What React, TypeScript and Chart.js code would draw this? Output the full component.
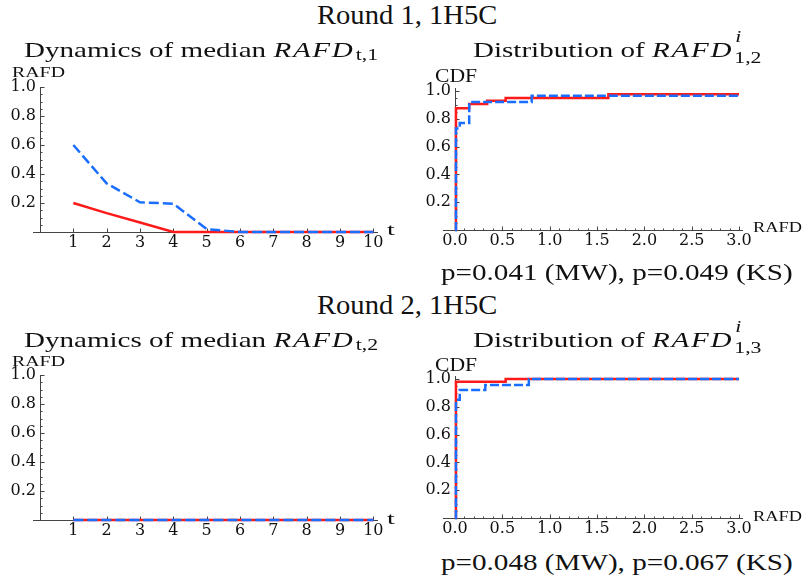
import React, { useEffect, useLayoutEffect, useRef, useState } from "react";
import { Chart, registerables } from "chart.js";
Chart.register(...registerables);

// ---------- data ----------
const tSteps = [1, 2, 3, 4, 5, 6, 7, 8, 9, 10];
const round1MedianRed = [0.2, 0.13, 0.065, 0, 0, 0, 0, 0, 0, 0];
const round1MedianBlue = [0.6, 0.335, 0.205, 0.195, 0.02, 0, 0, 0, 0, 0];
const round2MedianRed = [0, 0, 0, 0, 0, 0, 0, 0, 0, 0];
const round2MedianBlue = [0, 0, 0, 0, 0, 0, 0, 0, 0, 0];

const round1CdfRedX = [0, 0.01, 0.15, 0.34, 0.535, 1.62, 3.0];
const round1CdfRedY = [0, 0.876, 0.906, 0.93, 0.95, 0.976, 0.976];
const round1CdfBlueX = [0, 0.01, 0.05, 0.15, 0.81, 3.0];
const round1CdfBlueY = [0, 0.73, 0.77, 0.92, 0.965, 0.965];

const round2CdfRedX = [0, 0.01, 0.535, 3.0];
const round2CdfRedY = [0, 0.98, 1.0, 1.0];
const round2CdfBlueX = [0, 0.01, 0.05, 0.32, 0.78, 3.0];
const round2CdfBlueY = [0, 0.85, 0.92, 0.957, 1.0, 1.0];

const tTicks = [1, 2, 3, 4, 5, 6, 7, 8, 9, 10];
const rafdTicks = [0, 0.5, 1.0, 1.5, 2.0, 2.5, 3.0];
const shareTicks = [0.2, 0.4, 0.6, 0.8, 1.0];

// ---------- style ----------
const TICK_FONT = "'DejaVu Serif', serif";
const TEXT_FONT = "'Liberation Serif', serif";
const TEXT_ASC = 0.8375; // baseline offset for Liberation Serif with line-height = font-size
const RED = "#ff1a1a";
const BLUE = "#1a6eff";
const AXIS = "#444444";

function range(a: number, b: number, step: number) {
  const out: number[] = [];
  for (let v = a; v <= b + 1e-9; v += step) out.push(Math.round(v * 1000) / 1000);
  return out;
}

type AxisOpts = {
  extendLeft: number;
  xMajor: number[];
  xMinor: number[];
  yMajor: number[];
  yMinor: number[];
};

function axesPlugin(o: AxisOpts) {
  return {
    id: "mmaAxes",
    beforeDatasetsDraw(chart: any) {
      const { ctx, chartArea } = chart;
      const xs = chart.scales.x;
      const ys = chart.scales.y;
      const x0 = Math.round(xs.getPixelForValue(0)) + 0.5;
      const y0 = Math.round(ys.getPixelForValue(0)) + 0.5;
      ctx.save();
      ctx.strokeStyle = AXIS;
      ctx.lineWidth = 1;
      ctx.beginPath();
      ctx.moveTo(chartArea.left - o.extendLeft, y0);
      ctx.lineTo(chartArea.right, y0);
      ctx.moveTo(x0, y0);
      ctx.lineTo(x0, chartArea.top);
      o.xMajor.forEach((v) => {
        const p = Math.round(xs.getPixelForValue(v)) + 0.5;
        ctx.moveTo(p, y0);
        ctx.lineTo(p, y0 - 4);
      });
      o.xMinor.forEach((v) => {
        const p = Math.round(xs.getPixelForValue(v)) + 0.5;
        ctx.moveTo(p, y0);
        ctx.lineTo(p, y0 - 2);
      });
      o.yMajor.forEach((v) => {
        const p = Math.round(ys.getPixelForValue(v)) + 0.5;
        ctx.moveTo(x0, p);
        ctx.lineTo(x0 + 4, p);
      });
      o.yMinor.forEach((v) => {
        const p = Math.round(ys.getPixelForValue(v)) + 0.5;
        ctx.moveTo(x0, p);
        ctx.lineTo(x0 + 2, p);
      });
      ctx.stroke();
      ctx.restore();
    },
  };
}

type PanelSpec = {
  left: number;
  top: number;
  width: number;
  height: number;
  areaLeft: number;
  areaTop: number;
  areaRight: number;
  areaBottom: number;
  xMin: number;
  xMax: number;
  yMax: number;
  xTicks: number[];
  xDecimals: number;
  stepped: boolean;
  dash: number[];
  red: { x: number; y: number }[];
  blue: { x: number; y: number }[];
  axes: AxisOpts;
};

function Panel({ spec }: { spec: PanelSpec }) {
  const ref = useRef<HTMLCanvasElement | null>(null);
  useEffect(() => {
    if (!ref.current) return;
    const s = spec;
    const tickFont = { family: TICK_FONT, size: 16 };
    const chart = new Chart(ref.current, {
      type: "line",
      data: {
        datasets: [
          {
            data: s.blue,
            borderColor: BLUE,
            borderWidth: 2.5,
            borderDash: s.dash,
            pointRadius: 0,
            fill: false,
            tension: 0,
            stepped: s.stepped ? "before" : false,
            clip: false as any,
          },
          {
            data: s.red,
            borderColor: RED,
            borderWidth: 2.5,
            pointRadius: 0,
            fill: false,
            tension: 0,
            stepped: s.stepped ? "before" : false,
            clip: false as any,
          },
        ],
      } as any,
      options: {
        animation: false,
        responsive: false,
        devicePixelRatio: 1,
        layout: {
          padding: {
            left: 0,
            top: s.areaTop,
            right: s.width - s.areaRight,
            bottom: 0,
          },
        },
        plugins: { legend: { display: false }, tooltip: { enabled: false } },
        scales: {
          x: {
            type: "linear",
            min: s.xMin,
            max: s.xMax,
            grid: { display: false, drawTicks: false },
            border: { display: false },
            afterBuildTicks: (sc: any) => {
              sc.ticks = s.xTicks.map((v) => ({ value: v }));
            },
            afterFit: (sc: any) => {
              sc.height = s.height - s.areaBottom;
            },
            ticks: {
              font: tickFont,
              color: "#111",
              padding: 1,
              maxRotation: 0,
              autoSkip: false,
              callback: (v: any) => Number(v).toFixed(s.xDecimals),
            },
          },
          y: {
            type: "linear",
            min: 0,
            max: s.yMax,
            grid: { display: false, drawTicks: false },
            border: { display: false },
            afterBuildTicks: (sc: any) => {
              sc.ticks = shareTicks.map((v) => ({ value: v }));
            },
            afterFit: (sc: any) => {
              sc.width = s.areaLeft;
            },
            ticks: {
              font: tickFont,
              color: "#111",
              padding: 4,
              autoSkip: false,
              callback: (v: any) => Number(v).toFixed(1),
            },
          },
        },
      } as any,
      plugins: [axesPlugin(s.axes)],
    });
    return () => chart.destroy();
  }, [spec]);
  return (
    <canvas
      ref={ref}
      width={spec.width}
      height={spec.height}
      style={{
        position: "absolute",
        left: spec.left,
        top: spec.top,
        width: spec.width,
        height: spec.height,
      }}
    />
  );
}

function pts(xs: number[], ys: number[]) {
  return xs.map((x, i) => ({ x, y: ys[i] }));
}

const yMinorTicks = range(0.05, 1.0, 0.05).filter(
  (v) => Math.abs(v * 5 - Math.round(v * 5)) > 1e-6
);

const dynAxes: AxisOpts = {
  extendLeft: 7,
  xMajor: tTicks,
  xMinor: [],
  yMajor: shareTicks,
  yMinor: yMinorTicks,
};
const cdfAxes: AxisOpts = {
  extendLeft: 12,
  xMajor: rafdTicks,
  xMinor: range(0.1, 3.0, 0.1).filter(
    (v) => Math.abs(v * 2 - Math.round(v * 2)) > 1e-6
  ),
  yMajor: shareTicks,
  yMinor: yMinorTicks,
};

function dynSpec(top: number, red: number[], blue: number[]): PanelSpec {
  return {
    left: 0,
    top,
    width: 405,
    height: 200,
    areaLeft: 40,
    areaTop: 27,
    areaRight: 378,
    areaBottom: 172,
    xMin: 0,
    xMax: 10.14,
    yMax: 1.0,
    xTicks: tTicks,
    xDecimals: 0,
    stepped: false,
    dash: [10, 4],
    red: pts(tSteps, red),
    blue: pts(tSteps, blue),
    axes: dynAxes,
  };
}

function cdfSpec(
  top: number,
  rx: number[],
  ry: number[],
  bx: number[],
  by: number[]
): PanelSpec {
  return {
    left: 405,
    top,
    width: 405,
    height: 200,
    areaLeft: 50,
    areaTop: 28,
    areaRight: 338,
    areaBottom: 170,
    xMin: 0,
    xMax: 3.042,
    yMax: 1.0216,
    xTicks: rafdTicks,
    xDecimals: 1,
    stepped: true,
    dash: [9, 3],
    red: pts(rx, ry),
    blue: pts(bx, by),
    axes: cdfAxes,
  };
}

const specs: PanelSpec[] = [
  dynSpec(60, round1MedianRed, round1MedianBlue),
  cdfSpec(60, round1CdfRedX, round1CdfRedY, round1CdfBlueX, round1CdfBlueY),
  dynSpec(348, round2MedianRed, round2MedianBlue),
  cdfSpec(348, round2CdfRedX, round2CdfRedY, round2CdfBlueX, round2CdfBlueY),
];

// Text that is stretched horizontally to span [x1, x2], with given baseline.
function FitText({
  x1,
  x2,
  baseline,
  size,
  children,
  style,
}: {
  x1: number;
  x2: number;
  baseline: number;
  size: number;
  children: React.ReactNode;
  style?: React.CSSProperties;
}) {
  const ref = useRef<HTMLSpanElement | null>(null);
  const [k, setK] = useState(1);
  useLayoutEffect(() => {
    if (!ref.current) return;
    const w = ref.current.offsetWidth;
    if (w > 0) setK((x2 - x1) / w);
  }, [x1, x2]);
  return (
    <span
      ref={ref}
      style={{
        position: "absolute",
        left: x1,
        top: baseline - TEXT_ASC * size,
        fontSize: size,
        lineHeight: `${size}px`,
        fontFamily: TEXT_FONT,
        whiteSpace: "nowrap",
        color: "#111",
        display: "inline-block",
        transform: `scaleX(${k})`,
        transformOrigin: "0 0",
        ...style,
      }}
    >
      {children}
    </span>
  );
}

const mathI: React.CSSProperties = { fontStyle: "italic", letterSpacing: "0.06em" };

function Sub({ children }: { children: React.ReactNode }) {
  return (
    <span style={{ fontSize: "0.75em", position: "relative", top: "0.22em", marginLeft: "0.05em" }}>
      {children}
    </span>
  );
}

function SupSub({ sup, sub }: { sup: string; sub: string }) {
  return (
    <span style={{ position: "relative", fontSize: "0.75em", marginLeft: "0.05em" }}>
      <span style={{ position: "relative", top: "0.4em" }}>{sub}</span>
      <span style={{ position: "absolute", left: "0.05em", top: "-0.95em", fontStyle: "italic" }}>
        {sup}
      </span>
    </span>
  );
}

function Labels({
  dy,
  dyAxis,
  round,
  dynSub,
  cdfSub,
  pText,
}: {
  dy: number;
  dyAxis: number;
  round: number;
  dynSub: string;
  cdfSub: string;
  pText: string;
}) {
  return (
    <>
      <FitText x1={317} x2={497} baseline={25 + dy} size={27}>
        Round {round}, 1H5C
      </FitText>
      <FitText x1={24} x2={378} baseline={57 + dy} size={22}>
        Dynamics of median <span style={mathI}>RAFD</span>
        <Sub>{dynSub}</Sub>
      </FitText>
      <FitText x1={473} x2={762} baseline={57 + dy} size={22}>
        Distribution of <span style={mathI}>RAFD</span>
        <SupSub sup="i" sub={cdfSub} />
      </FitText>
      <FitText x1={12} x2={65} baseline={78 + dyAxis} size={15}>
        RAFD
      </FitText>
      <FitText x1={435} x2={477} baseline={82 + dyAxis} size={18}>
        CDF
      </FitText>
      <FitText x1={387} x2={394} baseline={235 + dyAxis} size={16}>
        t
      </FitText>
      <FitText x1={753} x2={802} baseline={233 + dyAxis} size={15}>
        RAFD
      </FitText>
      <FitText x1={441} x2={793} baseline={280 + dy} size={24}>
        {pText}
      </FitText>
    </>
  );
}

export default function App() {
  return (
    <div
      style={{
        position: "absolute",
        left: 0,
        top: 0,
        width: 810,
        height: 579,
        background: "#fff",
        overflow: "hidden",
      }}
    >
      {specs.map((s, i) => (
        <Panel key={i} spec={s} />
      ))}
      <Labels dy={0} dyAxis={0} round={1} dynSub="t,1" cdfSub="1,2" pText="p=0.041 (MW), p=0.049 (KS)" />
      <Labels dy={290} dyAxis={289} round={2} dynSub="t,2" cdfSub="1,3" pText="p=0.048 (MW), p=0.067 (KS)" />
    </div>
  );
}
